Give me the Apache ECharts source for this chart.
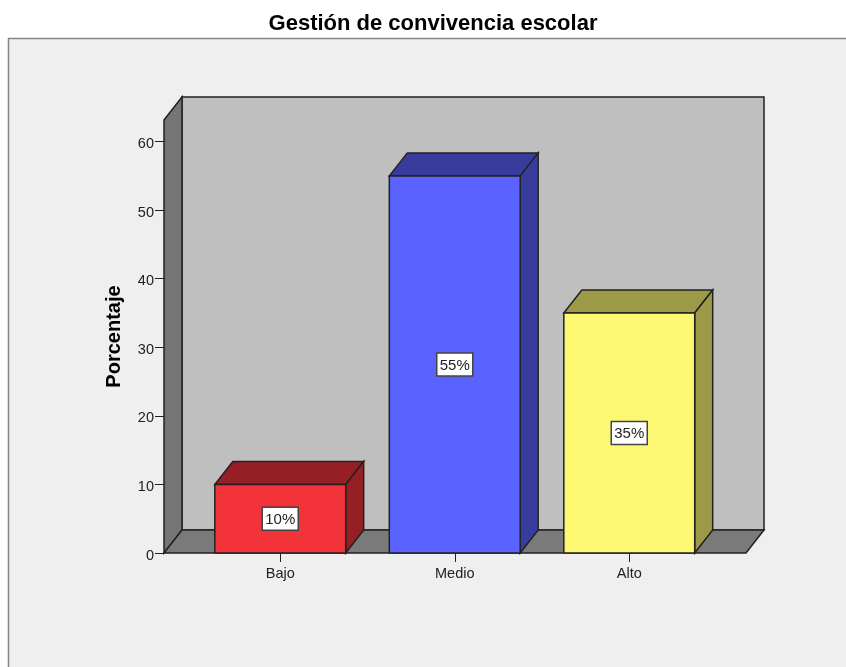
<!DOCTYPE html>
<html>
<head>
<meta charset="utf-8">
<style>html,body{margin:0;padding:0;background:#fff}#c{width:846px;height:667px}</style>
<script src="https://cdn.jsdelivr.net/npm/echarts@6/dist/echarts.min.js"></script>
</head>
<body>
<div id="c"></div>
<script>
var titleText = 'Gestión de convivencia escolar';
var yName = 'Porcentaje';
var categories = ['Bajo', 'Medio', 'Alto'];
var values = [10, 55, 35];
var barLabels = ['10%', '55%', '35%'];
var frontColors = ['#f3333a', '#5a62ff', '#fcf872'];
var darkColors = ['#951f24', '#383c9c', '#9c9a46'];

var DX = 18, DY = -23, EDGE = '#222222';
var WALL_MAX = 63.15;

var chart = echarts.init(document.getElementById('c'), null, {renderer: 'canvas'});

function poly(points, fill) {
  return {type: 'polygon', shape: {points: points},
    style: {fill: fill, stroke: EDGE, lineWidth: 1.5}};
}

function renderWalls(params, api) {
  var cs = params.coordSys;
  var b = api.coord([0, 0])[1];
  var t = api.coord([0, 60])[1];
  var top = b - (b - t) * WALL_MAX / 60;
  var l = cs.x - 29;
  var r = cs.x + cs.width + 29.5;
  return {type: 'group', children: [
    poly([[l + DX, top + DY], [r + DX, top + DY], [r + DX, b + DY], [l + DX, b + DY]], '#bfbfbf'),
    poly([[l, top], [l + DX, top + DY], [l + DX, b + DY], [l, b]], '#757575'),
    poly([[l, b], [l + DX, b + DY], [r + DX, b + DY], [r, b]], '#7a7a7a')
  ]};
}

function renderBar(params, api) {
  var i = params.dataIndex;
  var c = api.coord([api.value(0), api.value(1)]);
  var b = api.coord([api.value(0), 0])[1];
  var w = api.size([1, 0])[0] * 0.75;
  var l = c[0] - w / 2, r = c[0] + w / 2, t = c[1];
  var m = (t + b) / 2;
  return {type: 'group', children: [
    poly([[l, t], [l + DX, t + DY], [r + DX, t + DY], [r, t]], darkColors[i]),
    poly([[r, t], [r + DX, t + DY], [r + DX, b + DY], [r, b]], darkColors[i]),
    poly([[l, t], [r, t], [r, b], [l, b]], frontColors[i]),
    {type: 'rect', shape: {x: c[0] - 18, y: m - 11.5, width: 36, height: 23},
      style: {fill: '#ffffff', stroke: '#444444', lineWidth: 1.5}},
    {type: 'text', style: {x: c[0], y: m + 1, text: barLabels[i], fill: '#222222',
      font: '15px "Liberation Sans"', align: 'center', verticalAlign: 'middle'}}
  ]};
}

chart.setOption({
  animation: false,
  backgroundColor: '#ffffff',
  title: {text: titleText, left: 428, top: 8, textAlign: 'center',
    textStyle: {fontFamily: 'Liberation Sans', fontSize: 22, fontWeight: 'bold', color: '#000'}},
  graphic: [
    {type: 'rect', z: -10, silent: true,
      shape: {x: 8.5, y: 38.5, width: 900, height: 700},
      style: {fill: '#efefef', stroke: '#858585', lineWidth: 1.5}},
    {type: 'text', z: 10, silent: true, x: 114.5, y: 336.5, rotation: Math.PI / 2,
      style: {text: yName, fill: '#000', font: 'bold 20px "Liberation Sans"', align: 'center', verticalAlign: 'middle'}}
  ],
  grid: {left: 193, width: 523.5, top: 141.6, height: 411.4},
  xAxis: {type: 'category', data: categories, boundaryGap: true,
    axisLine: {show: false},
    axisTick: {show: true, alignWithLabel: true, length: 9, lineStyle: {color: '#222', width: 1}},
    axisLabel: {margin: 13, fontFamily: 'Liberation Sans', fontSize: 14.5, color: '#222'},
    splitLine: {show: false}},
  yAxis: {type: 'value', min: 0, max: 60, interval: 10, offset: 29,
    axisLine: {show: false},
    axisTick: {show: true, length: 9, lineStyle: {color: '#222', width: 1}},
    axisLabel: {margin: 10, formatter: '{a|{value}}',
      rich: {a: {padding: [5, 0, 0, 0], fontFamily: 'Liberation Sans', fontSize: 14.5, color: '#222'}}},
    splitLine: {show: false}},
  series: [
    {type: 'custom', name: 'walls', z: 1, silent: true, clip: false, renderItem: renderWalls,
      data: [[0, 0]], encode: {x: 0, y: 1}},
    {type: 'custom', name: 'Porcentaje', z: 2, silent: true, clip: false, renderItem: renderBar,
      data: values.map(function (v, i) { return [i, v]; }), encode: {x: 0, y: 1}}
  ]
});
</script>
</body>
</html>
